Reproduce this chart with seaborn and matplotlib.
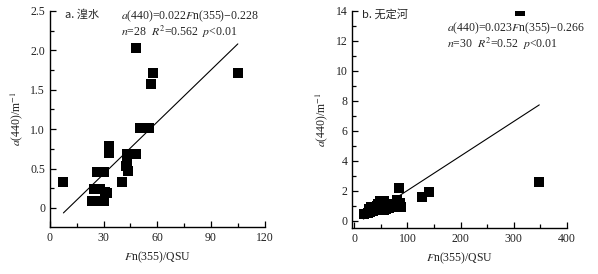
import numpy as np
import pandas as pd
import seaborn as sns
import matplotlib.pyplot as plt
from matplotlib.ticker import MultipleLocator

sns.set_style("white")
plt.rcParams['font.family'] = ['Liberation Serif', 'Noto Sans CJK SC']
plt.rcParams['mathtext.fontset'] = 'stix'

# panel a: Huangshui
fn_a = [7.4, 48, 57.7, 56.7, 105, 51.2, 55.4, 50.5, 32.9, 32.9, 43, 45, 48,
        42.8, 42.5, 43.7, 26.5, 28.5, 30.1, 40, 24.7, 26, 27.9, 31.6, 31, 23.3, 24.5, 30.3]
a440_a = [0.33, 2.03, 1.71, 1.57, 1.71, 1.02, 1.02, 1.01, 0.79, 0.70, 0.69, 0.69, 0.69,
          0.56, 0.53, 0.47, 0.46, 0.46, 0.46, 0.33, 0.24, 0.24, 0.24, 0.19, 0.20, 0.09, 0.09, 0.09]
# panel b: Wudinghe
fn_b = [18, 25, 28, 30, 32, 35, 40, 42, 45, 48, 50, 52, 55, 55, 58, 60, 62, 65, 68,
        72, 75, 80, 82, 85, 88, 84, 127, 140, 348, 311]
a440_b = [0.47, 0.5, 0.8, 0.6, 0.9, 0.65, 0.75, 1.0, 1.1, 1.35, 0.9, 1.2, 0.75, 1.3, 1.0,
          0.8, 1.1, 0.85, 0.95, 1.1, 1.0, 1.4, 0.9, 1.2, 0.95, 2.2, 1.62, 1.95, 2.62, 14.0]

# fitted lines (coefficients from the chart text)
slope_a, icpt_a, xr_a = 0.022, -0.228, [7.5, 105]
slope_b, icpt_b, xr_b = 0.023, -0.266, [17, 348]

fig = plt.figure(figsize=(5.98, 2.74), dpi=100)
ax1 = fig.add_axes([0.0836, 0.172, 0.359, 0.788])
ax2 = fig.add_axes([0.589, 0.169, 0.359, 0.791])

def panel(ax, x, y, slope, icpt, xr):
    sns.scatterplot(x=x, y=y, marker='s', s=58, color='black', edgecolor='black',
                    linewidth=0, ax=ax, clip_on=True)
    lx = np.array(xr)
    sns.lineplot(x=lx, y=slope * lx + icpt, color='black', linewidth=0.8, ax=ax)
    ax.spines['top'].set_visible(False)
    ax.spines['right'].set_visible(False)
    for s in ['left', 'bottom']:
        ax.spines[s].set_linewidth(1.0)
        ax.spines[s].set_color('black')
    ax.tick_params(which='both', direction='in', left=True, bottom=True,
                   labelsize=8.5, width=0.9, colors='black', labelcolor='#222222')
    ax.tick_params(which='major', length=4)
    ax.tick_params(which='minor', length=3)
    ax.set_xlabel(r'$F$n(355)/QSU', fontsize=8.5, color='#222222')
    ax.set_ylabel(r'$a$(440)/m$^{-1}$', fontsize=8.5, labelpad=4, color='#222222')

panel(ax1, fn_a, a440_a, slope_a, icpt_a, xr_a)
ax1.set_xlim(0, 120)
ax1.set_ylim(-0.24, 2.5)
ax1.xaxis.set_major_locator(MultipleLocator(30))
ax1.xaxis.set_minor_locator(MultipleLocator(15))
ax1.yaxis.set_major_locator(MultipleLocator(0.5))
ax1.yaxis.set_minor_locator(MultipleLocator(0.25))
ax1.set_yticks([0, 0.5, 1.0, 1.5, 2.0, 2.5])
ax1.set_yticklabels(['0', '0.5', '1.0', '1.5', '2.0', '2.5'])
ax1.text(0.07, 0.985, 'a. 湟水', transform=ax1.transAxes, fontsize=8,
         family=['Noto Sans CJK SC'], va='center')
ax1.text(0.33, 0.977, r'$a$(440)=0.022$F$n(355)−0.228', transform=ax1.transAxes,
         fontsize=8.5, va='center')
ax1.text(0.33, 0.902, r'$n$=28  $R^2$=0.562  $p$<0.01', transform=ax1.transAxes,
         fontsize=8.5, va='center')

panel(ax2, fn_b, a440_b, slope_b, icpt_b, xr_b)
ax2.set_xlim(-4, 400)
ax2.set_ylim(-0.45, 14)
ax2.xaxis.set_major_locator(MultipleLocator(100))
ax2.xaxis.set_minor_locator(MultipleLocator(50))
ax2.yaxis.set_major_locator(MultipleLocator(2))
ax2.yaxis.set_minor_locator(MultipleLocator(1))
ax2.text(0.045, 0.985, 'b. 无定河', transform=ax2.transAxes, fontsize=8,
         family=['Noto Sans CJK SC'], va='center')
ax2.text(0.44, 0.918, r'$a$(440)=0.023$F$n(355)−0.266', transform=ax2.transAxes,
         fontsize=8.5, va='center')
ax2.text(0.44, 0.846, r'$n$=30  $R^2$=0.52  $p$<0.01', transform=ax2.transAxes,
         fontsize=8.5, va='center')

fig.savefig('out.png', dpi=100)
